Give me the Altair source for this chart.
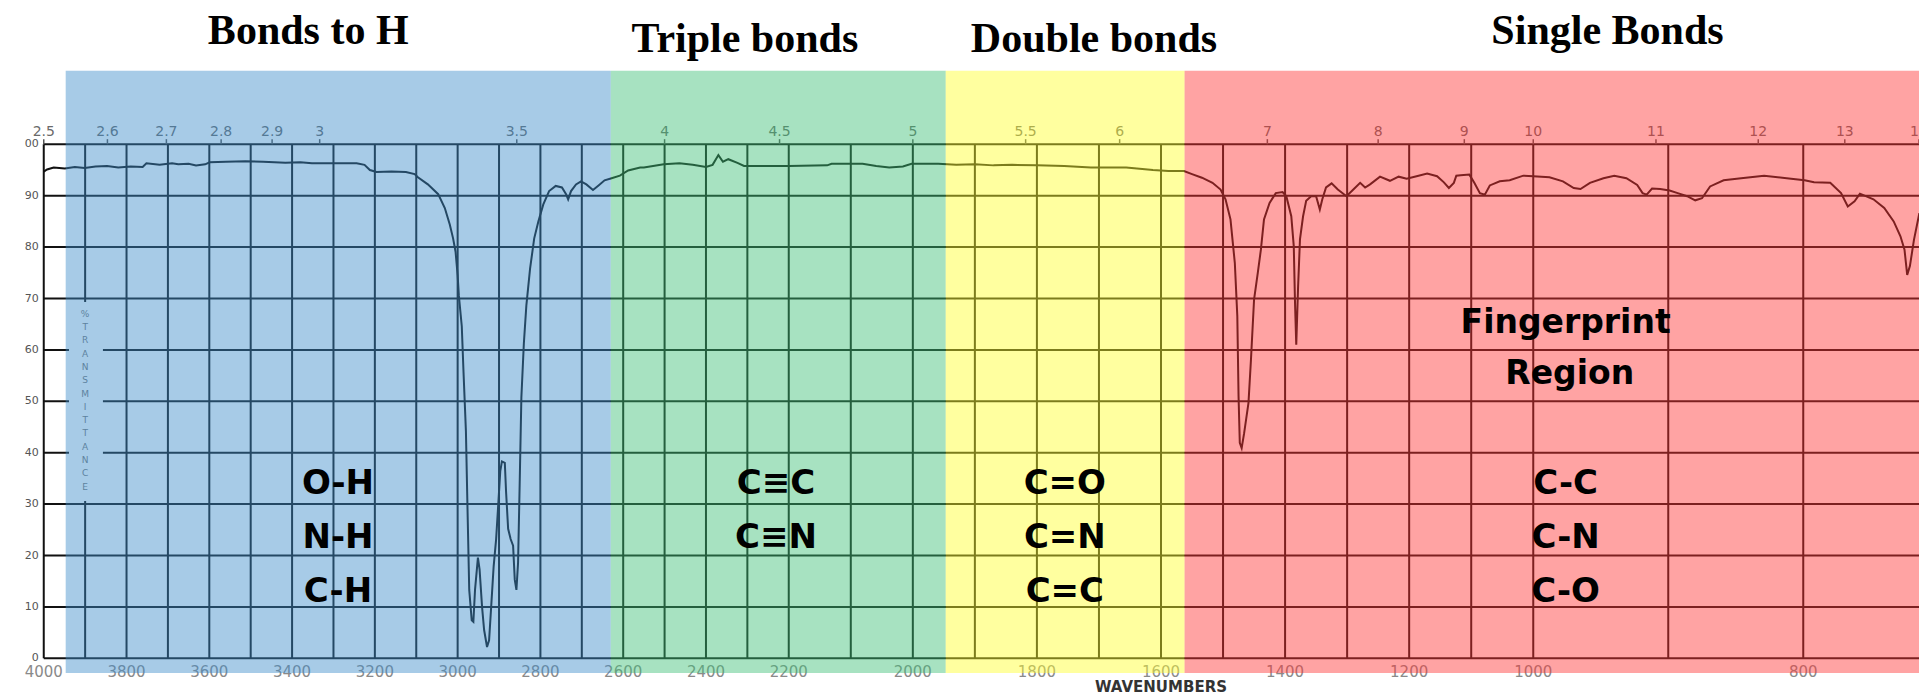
import altair as alt
import pandas as pd

# ---------------------------------------------------------------
# IR transmission spectrum: wavenumber (cm^-1) vs % transmittance
# ---------------------------------------------------------------
wavenumber = [
    4000, 3992, 3976, 3949, 3925, 3901, 3875, 3847, 3820, 3790, 3761, 3752,
    3720, 3690, 3675, 3650, 3632, 3610, 3599, 3560, 3513, 3470, 3416, 3380,
    3352, 3300, 3244, 3225, 3212, 3196, 3160, 3125, 3104, 3096, 3072, 3047,
    3031, 3019, 3011, 3005, 3000, 2997, 2990, 2986, 2980, 2976, 2972, 2966,
    2962, 2958, 2951, 2947, 2941, 2936, 2929, 2924, 2919, 2913, 2907, 2901,
    2897, 2893, 2886, 2883, 2878, 2872, 2866, 2862, 2858, 2854, 2850, 2846,
    2840, 2834, 2825, 2815, 2805, 2793, 2779, 2763, 2748, 2738, 2733, 2726,
    2714, 2702, 2689, 2673, 2661, 2645, 2628, 2608, 2588, 2559, 2550, 2502,
    2464, 2432, 2400, 2384, 2370, 2359, 2346, 2324, 2308, 2250, 2200, 2138,
    2131, 2081, 2059, 2038, 2016, 2002, 1959, 1930, 1900, 1870, 1840, 1800,
    1756, 1713, 1656, 1613, 1588, 1563, 1550, 1534, 1517, 1504, 1496, 1488,
    1481, 1477, 1475, 1473, 1470, 1466, 1459, 1455, 1450, 1444, 1439, 1434,
    1425, 1415, 1404, 1398, 1390, 1386, 1384, 1382, 1379, 1376, 1371, 1366,
    1358, 1350, 1344, 1340, 1334, 1325, 1315, 1301, 1290, 1279, 1271, 1263,
    1247, 1231, 1217, 1204, 1188, 1171, 1155, 1144, 1136, 1128, 1124, 1117,
    1103, 1095, 1086, 1078, 1070, 1054, 1038, 1016, 1000, 988, 978, 970,
    965, 958, 948, 940, 931, 923, 919, 916, 912, 906, 899, 893,
    886, 880, 875, 869, 859, 846, 829, 809, 799, 792, 780, 772,
    767, 762, 758, 748, 740, 733, 728, 725, 723, 721, 718, 714,
]
transmittance = [
    94.7, 95.1, 95.5, 95.3, 95.6, 95.4, 95.7, 95.8, 95.5, 95.7, 95.6, 96.3,
    96.0, 96.3, 96.1, 96.2, 95.9, 96.1, 96.5, 96.6, 96.7, 96.6, 96.4, 96.5,
    96.3, 96.3, 96.3, 96.0, 95.0, 94.6, 94.7, 94.6, 94.2, 93.6, 92.2, 90.3,
    87.6, 84.4, 81.7, 79.1, 74.5, 70.5, 64.6, 56.1, 44.2, 28.5, 13.3, 7.4,
    7.1, 13.3, 19.6, 17.3, 10.0, 5.5, 2.2, 3.5, 10.0, 17.9, 23.2, 31.1,
    36.4, 38.3, 38.0, 32.4, 25.2, 23.2, 21.9, 15.3, 13.3, 18.6, 34.4, 50.8,
    61.3, 68.6, 75.8, 81.7, 85.0, 88.3, 90.9, 91.9, 91.6, 90.3, 89.3, 90.9,
    92.2, 92.8, 92.2, 91.1, 91.9, 93.0, 93.4, 93.9, 94.9, 95.5, 95.5, 96.1,
    96.3, 96.0, 95.6, 96.0, 97.9, 96.6, 97.1, 96.4, 95.8, 95.8, 95.8, 95.9,
    96.2, 96.2, 95.8, 95.5, 95.7, 96.2, 96.2, 96.0, 96.1, 95.9, 96.0, 95.9,
    95.8, 95.5, 95.5, 95.0, 94.8, 94.8, 94.2, 93.5, 92.5, 91.2, 89.3, 85.4,
    76.9, 66.6, 51.0, 41.9, 40.9, 43.8, 49.7, 58.1, 69.8, 75.0, 79.5, 85.4,
    88.6, 90.5, 90.7, 89.9, 86.0, 80.2, 69.2, 61.0, 72.4, 81.5, 86.0, 89.0,
    89.9, 89.9, 87.3, 89.3, 91.6, 92.4, 91.2, 89.9, 91.2, 92.5, 91.6, 92.2,
    93.7, 92.9, 93.7, 93.3, 93.8, 94.3, 93.8, 92.6, 91.5, 92.5, 93.9, 94.0,
    94.1, 92.5, 90.5, 90.2, 92.0, 92.8, 93.0, 93.9, 93.8, 93.6, 92.8, 91.5,
    91.3, 92.5, 93.4, 93.9, 93.4, 92.1, 90.5, 90.2, 91.4, 91.3, 91.0, 90.5,
    89.9, 89.1, 89.5, 91.8, 93.0, 93.4, 93.9, 93.3, 93.0, 92.6, 92.5, 90.5,
    87.9, 88.9, 90.4, 89.3, 87.6, 85.0, 82.1, 79.5, 74.6, 76.3, 81.4, 86.6,
]

# Chart-paper grid and tick labels
grid_wavenumbers = list(range(4000, 700, -100))
grid_transmittance = list(range(0, 101, 10))
bottom_tick_values = [4000, 3800, 3600, 3400, 3200, 3000, 2800, 2600, 2400,
                      2200, 2000, 1800, 1600, 1400, 1200, 1000, 800]
y_tick_values = [0, 10, 20, 30, 40, 50, 60, 70, 80, 90, 100]
y_tick_labels = ["0", "10", "20", "30", "40", "50", "60", "70", "80", "90", "00"]
micron_values = [2.5, 2.6, 2.7, 2.8, 2.9, 3, 3.5, 4, 4.5, 5, 5.5, 6,
                 7, 8, 9, 10, 11, 12, 13, 14]
micron_labels = ["2.5", "2.6", "2.7", "2.8", "2.9", "3", "3.5", "4", "4.5",
                 "5", "5.5", "6", "7", "8", "9", "10", "11", "12", "13", "14"]

# Bond regions (wavenumber spans) and their captions
region_names = ["Bonds to H", "Triple bonds", "Double bonds", "Single Bonds"]
region_start = [3947, 2630, 1947, 1562]
region_end = [2630, 1947, 1562, 700]
region_colors = ["#3b8cca", "#3bbe75", "#ffff2b", "#ff3232"]
region_title_wn = [3361, 2306, 1708, 945]
region_title_t = [119.6, 118.0, 118.0, 119.6]

bond_label_wn = [3289, 2231, 1755, 976]
bond_label_rows = [31.9, 21.4, 11.0]
bond_labels = [
    ["O-H", "N-H", "C-H"],
    ["C\u2261C", "C\u2261N"],
    ["C=O", "C=N", "C=C"],
    ["C-C", "C-N", "C-O"],
]
fingerprint_lines = ["Fingerprint", "Region"]
fingerprint_wn = [976, 973]
fingerprint_t = [63.3, 53.4]

# ---------------------------------------------------------------
# Scales: the paper uses a piecewise-linear wavenumber axis
# ---------------------------------------------------------------
PLOT_W = 1875.25
PLOT_H = 514
x_scale = alt.Scale(domain=[4000, 2200, 1000, 700],
                    range=[0, 745, 1489.5, 1894.5],
                    nice=False, zero=False)
y_scale = alt.Scale(domain=[0, 100], nice=False, zero=False)


def X(field):
    return alt.X(field, type="quantitative", scale=x_scale, axis=None)


def Y(field):
    return alt.Y(field, type="quantitative", scale=y_scale, axis=None)


spectrum = pd.DataFrame({"wn": wavenumber, "t": transmittance})
vgrid = pd.DataFrame({"wn": grid_wavenumbers, "lo": 0, "hi": 100})
hgrid = pd.DataFrame({"t": grid_transmittance, "a": 4000, "b": 700})
bottom_labels = pd.DataFrame({"wn": bottom_tick_values,
                              "label": [str(v) for v in bottom_tick_values],
                              "t": -3.6})
left_labels = pd.DataFrame({"wn": 4000, "t": y_tick_values, "label": y_tick_labels})
top_labels = pd.DataFrame({"wn": [10000 / m for m in micron_values],
                           "label": micron_labels, "t": 101.7,
                           "lo": 100, "hi": 101})
regions = pd.DataFrame({"name": region_names, "a": region_start, "b": region_end,
                        "lo": -2.86, "hi": 114.3, "color": region_colors,
                        "twn": region_title_wn, "tt": region_title_t})
bond_rows = []
for wn, labels in zip(bond_label_wn, bond_labels):
    for row_t, lab in zip(bond_label_rows, labels):
        bond_rows.append({"wn": wn, "t": row_t, "label": lab})
bonds = pd.DataFrame(bond_rows)
fingerprint = pd.DataFrame({"wn": fingerprint_wn, "t": fingerprint_t,
                            "label": fingerprint_lines})
gap = pd.DataFrame({"a": [3939], "b": [3857], "lo": [30.6], "hi": [69.3]})
ylabel = pd.DataFrame({"wn": [3900], "t": [67.8], "label": ["\n".join("%TRANSMITTANCE")]})
xlabel = pd.DataFrame({"wn": [1600], "t": [-6.6], "label": ["WAVENUMBERS"]})

grid_v = alt.Chart(vgrid).mark_rule(color="#111111", strokeWidth=2).encode(
    x=X("wn"), y=Y("lo"), y2="hi")
grid_h = alt.Chart(hgrid).mark_rule(color="#111111", strokeWidth=2).encode(
    x=X("a"), x2="b", y=Y("t"))
top_ticks = alt.Chart(top_labels).mark_rule(color="#555555", strokeWidth=1.5).encode(
    x=X("wn"), y=Y("lo"), y2="hi")
line = alt.Chart(spectrum).mark_line(color="#111111", strokeWidth=2).encode(
    x=X("wn"), y=Y("t"))
gap_rect = alt.Chart(gap).mark_rect(color="white").encode(
    x=X("a"), x2="b", y=Y("lo"), y2="hi")
ylabel_text = alt.Chart(ylabel).mark_text(
    font="DejaVu Sans", fontSize=9, color="#7a7a7a", baseline="top",
    align="center", lineBreak="\n", lineHeight=13.3).encode(
    x=X("wn"), y=Y("t"), text="label")
bottom_text = alt.Chart(bottom_labels).mark_text(
    font="DejaVu Sans", fontSize=15, color="#8a8a8a", baseline="alphabetic",
    align="center").encode(x=X("wn"), y=Y("t"), text="label")
top_text = alt.Chart(top_labels).mark_text(
    font="DejaVu Sans", fontSize=14, color="#6a6a6a", baseline="alphabetic",
    align="center").encode(x=X("wn"), y=Y("t"), text="label")
left_text = alt.Chart(left_labels).mark_text(
    font="DejaVu Sans", fontSize=11, color="#555555", baseline="middle",
    align="right", dx=-5).encode(x=X("wn"), y=Y("t"), text="label")
bands = alt.Chart(regions).mark_rect(opacity=0.45).encode(
    x=X("a"), x2="b", y=Y("lo"), y2="hi",
    color=alt.Color("color:N", scale=None))
titles = alt.Chart(regions).mark_text(
    font="Liberation Serif", fontSize=42, fontWeight="bold", color="black",
    baseline="alphabetic", align="center").encode(
    x=X("twn"), y=Y("tt"), text="name")
bond_text = alt.Chart(bonds).mark_text(
    font="DejaVu Sans", fontSize=34, fontWeight="bold", color="black",
    baseline="alphabetic", align="center").encode(
    x=X("wn"), y=Y("t"), text="label")
fp_text = alt.Chart(fingerprint).mark_text(
    font="DejaVu Sans", fontSize=33, fontWeight="bold", color="black",
    baseline="alphabetic", align="center").encode(
    x=X("wn"), y=Y("t"), text="label")
xlabel_text = alt.Chart(xlabel).mark_text(
    font="DejaVu Sans", fontSize=15, fontWeight="bold", color="#333333",
    baseline="alphabetic", align="center").encode(
    x=X("wn"), y=Y("t"), text="label")

chart = alt.layer(
    grid_v, grid_h, top_ticks, line, gap_rect, ylabel_text, bottom_text,
    top_text, left_text, bands, titles, bond_text, fp_text, xlabel_text,
).properties(
    width=PLOT_W,
    height=PLOT_H,
    padding={"left": 43.75, "top": 144.3, "right": 0, "bottom": 36.7},
    autosize=alt.AutoSizeParams(type="none"),
    background="white",
).configure_view(stroke=None)

chart.save("out.html", embed_options={"renderer": "svg", "actions": False})
